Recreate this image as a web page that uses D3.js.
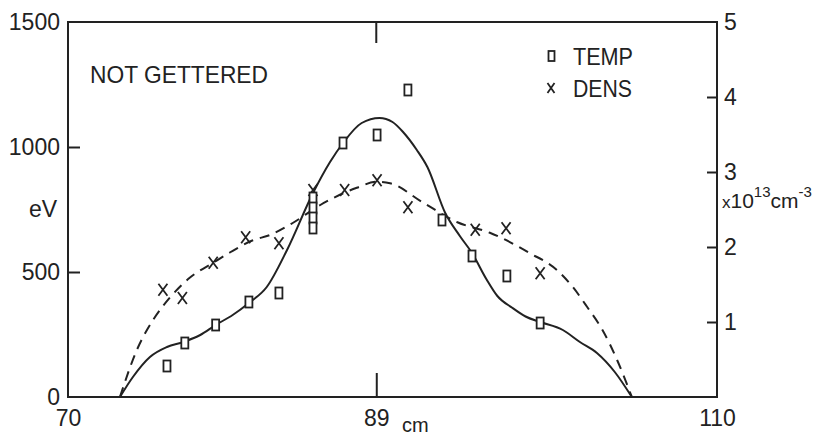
<!DOCTYPE html>
<html>
<head>
<meta charset="utf-8">
<script src="https://cdn.jsdelivr.net/npm/d3@7"></script>
<style>
  html, body { margin: 0; padding: 0; background: #fff; }
  svg { display: block; }
  text { font-family: "Liberation Sans", "DejaVu Sans", sans-serif; fill: #222; }
</style>
</head>
<body>
<svg id="chart" width="826" height="438"></svg>
<script>
// ---- data ----
const xTicks = [70, 89, 110];
const eVTicks = [0, 500, 1000, 1500];
const densTicks = [1, 2, 3, 4, 5];

// temperature (eV) measurements: position cm, value eV
const tempX = [76.1, 77.2, 79.1, 81.15, 83.0, 85.1, 85.1, 85.1, 85.1, 86.95, 89.05, 90.95, 93.05, 94.9, 97.05, 99.1];
const tempY = [124, 216, 288, 380, 416, 796, 756, 716, 676, 1016, 1048, 1228, 708, 564, 484, 296];

// density (1e13 cm^-3) measurements
const densX = [75.85, 77.05, 78.95, 80.95, 83.0, 85.1, 87.05, 89.05, 90.95, 95.1, 97.0, 99.1];
const densY = [1.43, 1.32, 1.79, 2.13, 2.05, 2.76, 2.76, 2.89, 2.53, 2.23, 2.25, 1.65];

// fitted curves (hand-drawn in the original)
const tempFitX = [73.2, 74.0, 75.05, 76.1, 77.1, 78.15, 79.1, 80.15, 81.15, 82.25, 83.5, 85.1, 86.15, 86.95, 88.1, 89.2, 90.0, 90.65, 91.5, 92.15, 93.25, 94.15, 94.9, 95.8, 96.45, 97.4, 98.2, 99.1, 100.5, 101.55, 102.6, 103.7, 104.75];
const tempFitY = [0, 80, 160, 200, 220, 248, 288, 328, 376, 440, 588, 816, 940, 1016, 1096, 1116, 1100, 1060, 988, 920, 736, 644, 576, 470, 405, 356, 322, 300, 268, 220, 176, 100, 0];

const densFitX = [73.2, 74.25, 75.25, 76.3, 77.5, 78.95, 80.0, 81.4, 82.45, 83.85, 85.55, 87.8, 89.05, 89.85, 91.9, 94.0, 96.0, 98.45, 100.15, 101.1, 102.0, 102.95, 103.85, 104.75];
const densFitY = [0, 0.63, 1.03, 1.33, 1.59, 1.79, 1.93, 2.09, 2.16, 2.32, 2.56, 2.79, 2.87, 2.85, 2.59, 2.33, 2.19, 1.92, 1.69, 1.47, 1.20, 0.89, 0.49, 0];

// ---- drawing ----
const ink = "#222";
const svg = d3.select("#chart");
const L = 68, R = 717, T = 22, B = 397;

const x = d3.scaleLinear().domain([70, 110]).range([L, R]);
const yE = d3.scaleLinear().domain([0, 1500]).range([B, T]);
const yD = d3.scaleLinear().domain([0, 5]).range([B, T]);

// frame
svg.append("rect").attr("x", L).attr("y", T).attr("width", R - L).attr("height", B - T)
  .attr("fill", "none").attr("stroke", ink).attr("stroke-width", 2);

// left axis
const gl = svg.append("g").attr("transform", `translate(${L},0)`)
  .call(d3.axisLeft(yE).tickValues(eVTicks).tickSize(-12).tickPadding(8).tickFormat(d3.format("d")));
// right axis
const gr = svg.append("g").attr("transform", `translate(${R},0)`)
  .call(d3.axisRight(yD).tickValues(densTicks).tickSize(-10).tickPadding(7).tickFormat(d3.format("d")));
// bottom axis
const gb = svg.append("g").attr("transform", `translate(0,${B})`)
  .call(d3.axisBottom(x).tickValues(xTicks).tickSize(-24).tickPadding(13).tickFormat(d3.format("d")));

[gl, gr, gb].forEach(g => {
  g.select(".domain").remove();
  g.selectAll(".tick line").attr("stroke", ink).attr("stroke-width", 2);
  g.selectAll(".tick text").attr("font-size", 23).attr("fill", ink)
    .style("font-family", "'Liberation Sans', 'DejaVu Sans', sans-serif");
});
// hide tick lines that coincide with the frame
gl.selectAll(".tick").filter(d => d === 0 || d === 1500).select("line").remove();
gr.selectAll(".tick").filter(d => d === 5).select("line").remove();
gb.selectAll(".tick").filter(d => d === 70 || d === 110).select("line").remove();

// top tick at 89
svg.append("line").attr("x1", x(89)).attr("x2", x(89)).attr("y1", T).attr("y2", T + 21)
  .attr("stroke", ink).attr("stroke-width", 2);

// curves
const tempFit = tempFitX.map((d, i) => [d, tempFitY[i]]);
const densFit = densFitX.map((d, i) => [d, densFitY[i]]);

svg.append("path").datum(tempFit)
  .attr("d", d3.line().x(d => x(d[0])).y(d => yE(d[1])).curve(d3.curveMonotoneX))
  .attr("fill", "none").attr("stroke", ink).attr("stroke-width", 2);

svg.append("path").datum(densFit)
  .attr("d", d3.line().x(d => x(d[0])).y(d => yD(d[1])).curve(d3.curveMonotoneX))
  .attr("fill", "none").attr("stroke", ink).attr("stroke-width", 2)
  .attr("stroke-dasharray", "10,7");

// markers
function square(g, cx, cy, w, h) {
  g.append("rect").attr("x", cx - w / 2).attr("y", cy - h / 2).attr("width", w).attr("height", h)
    .attr("fill", "#fff").attr("stroke", ink).attr("stroke-width", 1.8);
}
function cross(g, cx, cy, w, h) {
  g.append("path")
    .attr("d", `M${cx - w / 2},${cy - h / 2}L${cx + w / 2},${cy + h / 2}M${cx + w / 2},${cy - h / 2}L${cx - w / 2},${cy + h / 2}`)
    .attr("stroke", ink).attr("stroke-width", 1.8).attr("fill", "none");
}
const gm = svg.append("g");
densX.forEach((d, i) => cross(gm, x(d), yD(densY[i]), 9, 12));
tempX.forEach((d, i) => square(gm, x(d), yE(tempY[i]), 7, 11));

// legend
square(svg, 551.5, 56, 6, 10);
cross(svg, 551, 88, 7, 10);
svg.append("text").attr("x", 573).attr("y", 65).attr("font-size", 24)
  .attr("textLength", 60).attr("lengthAdjust", "spacingAndGlyphs").text("TEMP");
svg.append("text").attr("x", 573).attr("y", 97).attr("font-size", 24)
  .attr("textLength", 59).attr("lengthAdjust", "spacingAndGlyphs").text("DENS");

// annotation
svg.append("text").attr("x", 90).attr("y", 83).attr("font-size", 24)
  .attr("textLength", 178).attr("lengthAdjust", "spacingAndGlyphs").text("NOT GETTERED");

// axis unit labels
svg.append("text").attr("x", 29).attr("y", 217).attr("font-size", 23).text("eV");
svg.append("text").attr("x", 402).attr("y", 432).attr("font-size", 20).text("cm");

const u = svg.append("text").attr("x", 722).attr("y", 208).attr("font-size", 21);
u.append("tspan").attr("font-size", 17).text("x");
u.append("tspan").text("10");
u.append("tspan").attr("font-size", 15).attr("dy", -11).text("13");
u.append("tspan").attr("dy", 11).text("cm");
u.append("tspan").attr("font-size", 15).attr("dy", -11).text("-3");
</script>
</body>
</html>
